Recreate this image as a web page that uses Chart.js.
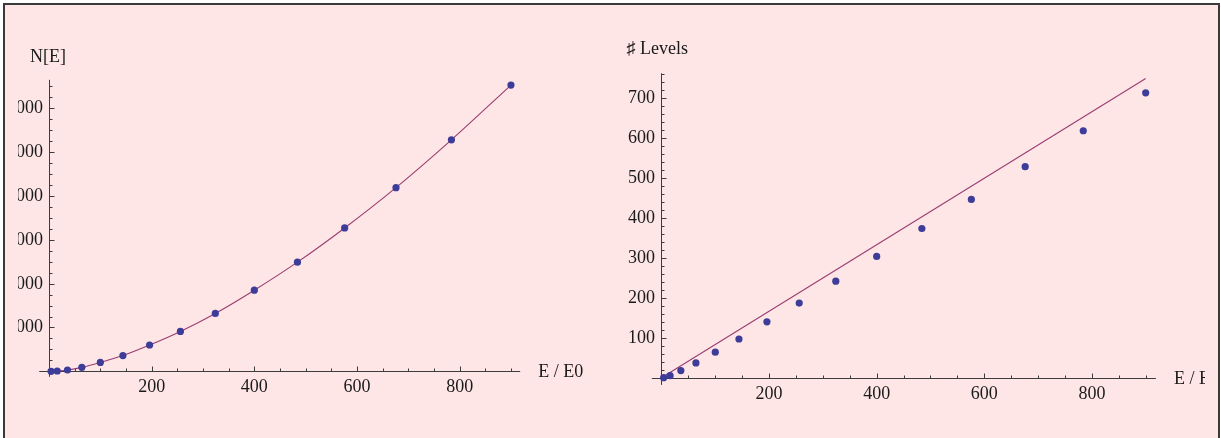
<!DOCTYPE html>
<html>
<head>
<meta charset="utf-8">
<script src="https://cdn.jsdelivr.net/npm/chart.js@4.4.1/dist/chart.umd.min.js"></script>
<style>
	html, body { margin: 0; padding: 0; background: #ffffff; }
	#frame { position: absolute; left: 3px; top: 3px; width: 1213px; height: 470px; border: 2px solid #3a3a3a; background: #fee6e7; }
	.panel { position: absolute; top: 5px; }
	#leftPanel { left: 18px; }
	#rightPanel { left: 610px; }
</style>
</head>
<body>
<div id="frame"></div>
<div class="panel" id="leftPanel"><canvas id="sumChart" width="592" height="433"></canvas></div>
<div class="panel" id="rightPanel"><canvas id="levelChart" width="595" height="433"></canvas></div>
<script>
	// energies E / E0 where the levels were sampled
	const energies = [4, 16, 36, 64, 100, 144, 196, 256, 324, 400, 484, 576, 676, 784, 900];
	// left panel: N[E]
	const sumN = [0, 15, 60, 180, 405, 720, 1200, 1820, 2640, 3700, 4980, 6540, 8380, 10560, 13060];
	// right panel: number of levels
	const levelCount = [0, 5, 18, 37, 64, 97, 140, 187, 242, 304, 374, 447, 529, 619, 714];
	// straight reference line on the right panel
	const fitE = [0, 900];
	const fitLevels = [0, 750];

	// tick labels
	const leftXTicks = [200, 400, 600, 800];
	const leftYTicks = [2000, 4000, 6000, 8000, 10000, 12000];
	const rightXTicks = [200, 400, 600, 800];
	const rightYTicks = [100, 200, 300, 400, 500, 600, 700];

	const FONT = '18px "Liberation Serif", "Times New Roman", serif';
	const INK = '#1a1a1a';
	const AXIS = '#3c3c3c';
	const POINT = '#3d3d99';
	const CURVE = '#993d71';

	function pts(xs, ys) { return xs.map((v, i) => ({ x: v, y: ys[i] })); }

	// Mathematica-like axes crossing at the origin, ticks pointing inwards
	const mmaAxes = {
		id: 'mmaAxes',
		beforeDatasetsDraw(chart, args, o) {
			const { ctx } = chart;
			const x = chart.scales.x, y = chart.scales.y;
			const x0 = Math.round(x.getPixelForValue(0)) + 0.5;
			const y0 = Math.round(y.getPixelForValue(0)) + 0.5;
			ctx.save();
			ctx.strokeStyle = AXIS;
			ctx.lineWidth = 1;
			ctx.beginPath();
			ctx.moveTo(x.left, y0); ctx.lineTo(x.right, y0);
			ctx.moveTo(x0, y.top); ctx.lineTo(x0, y.bottom);
			// x ticks
			for (let v = o.xMinor; v <= x.max; v += o.xMinor) {
				const px = Math.round(x.getPixelForValue(v)) + 0.5;
				const len = o.xTicks.includes(v) ? 5 : 3;
				ctx.moveTo(px, y0); ctx.lineTo(px, y0 - len);
			}
			// y ticks
			for (let v = o.yMinor; v <= y.max; v += o.yMinor) {
				const py = Math.round(y.getPixelForValue(v)) + 0.5;
				const len = o.yTicks.includes(v) ? 5 : 3;
				ctx.moveTo(x0, py); ctx.lineTo(x0 + len, py);
			}
			ctx.stroke();

			ctx.fillStyle = INK;
			ctx.font = FONT;
			ctx.textBaseline = 'alphabetic';
			ctx.textAlign = 'center';
			o.xTicks.forEach(v => ctx.fillText(String(v), x.getPixelForValue(v), y0 + 20.5));
			ctx.textAlign = 'right';
			o.yTicks.forEach(v => ctx.fillText(String(v), x0 - 6.5, y.getPixelForValue(v) + 5));

			ctx.textAlign = 'left';
			ctx.fillText(o.xTitle, x.right + 18, y0 + 5);
			ctx.fillText(o.yTitle, x0 + o.yTitleDx, y.top - o.yTitleDy);
			ctx.restore();
		}
	};

	function makeChart(id, cfg) {
		return new Chart(document.getElementById(id), {
			type: 'scatter',
			data: {
				datasets: [{
					data: cfg.points,
					pointRadius: 3.6,
					pointHoverRadius: 3.6,
					pointBackgroundColor: POINT,
					pointBorderWidth: 0,
					clip: false
				}, {
					data: cfg.curve,
					showLine: true,
					borderColor: CURVE,
					borderWidth: 1.1,
					pointRadius: 0,
					cubicInterpolationMode: 'monotone',
					clip: false
				}]
			},
			options: {
				responsive: false,
				animation: false,
				events: [],
				layout: { padding: cfg.padding },
				plugins: {
					legend: { display: false },
					tooltip: { enabled: false },
					mmaAxes: cfg.axes
				},
				scales: {
					x: { type: 'linear', min: cfg.xRange[0], max: cfg.xRange[1], display: false },
					y: { type: 'linear', min: cfg.yRange[0], max: cfg.yRange[1], display: false }
				}
			},
			plugins: [mmaAxes]
		});
	}

	makeChart('sumChart', {
		points: pts(energies, sumN),
		curve: pts(energies, sumN),
		xRange: [-19, 918],
		yRange: [-250, 13300],
		padding: { left: 21.25, right: 89.8, top: 74.8, bottom: 61.2 },
		axes: { xTicks: leftXTicks, yTicks: leftYTicks, xMinor: 50, yMinor: 500,
			xTitle: 'E / E0', yTitle: 'N[E]', yTitleDx: -19.5, yTitleDy: 18 }
	});

	makeChart('levelChart', {
		points: pts(energies, levelCount),
		curve: pts(fitE, fitLevels),
		xRange: [-18, 919],
		yRange: [-18, 763],
		padding: { left: 41.8, right: 49.1, top: 68.3, bottom: 53.1 },
		axes: { xTicks: rightXTicks, yTicks: rightYTicks, xMinor: 50, yMinor: 20,
			xTitle: 'E / E0', yTitle: '\u266F Levels', yTitleDx: -35, yTitleDy: 19.5 }
	});
</script>
</body>
</html>
